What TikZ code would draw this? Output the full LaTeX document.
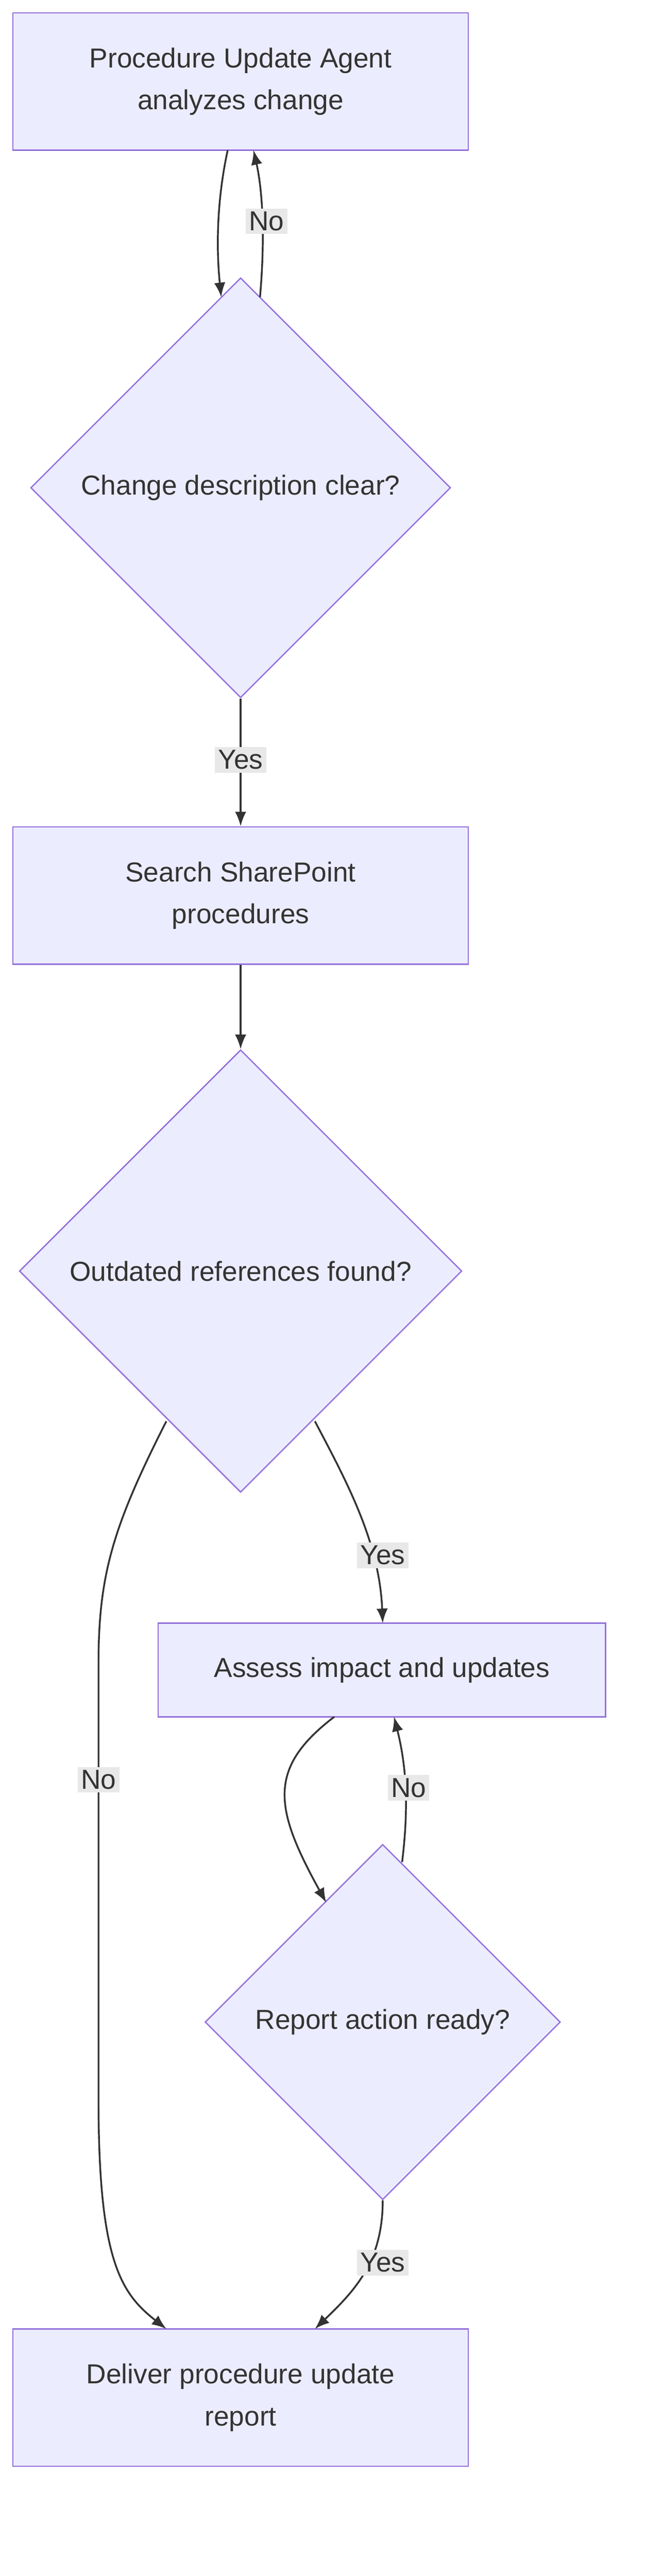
\documentclass[tikz,border=0pt]{standalone}
\usepackage{fontspec}
\setmainfont{Liberation Sans}
\usetikzlibrary{shapes.geometric,arrows.meta}
\definecolor{nfill}{HTML}{ECECFF}
\definecolor{nline}{HTML}{9370DB}
\definecolor{eline}{HTML}{333333}
\definecolor{lbg}{HTML}{E8E8E8}
\begin{document}
\begin{tikzpicture}[x=1pt,y=-1pt,
  font=\fontsize{17}{26}\selectfont, text=eline,
  boxn/.style={draw=nline,fill=nfill,line width=0.8pt,align=center},
  dia/.style={draw=nline,fill=nfill,line width=0.8pt,diamond,inner sep=0pt,text width=0pt,align=center},
  conn/.style={draw=eline,line width=1.1pt,-{Latex[length=9pt,width=7pt]}},
  lab/.style={fill=lbg,inner sep=2pt,font=\fontsize{17}{20}\selectfont}]
\useasboundingbox (0,0) rectangle (400,1595);
\fill[white] (0,0) rectangle (400,1595);
\node[boxn,minimum width=282pt,minimum height=85pt] (b1) at (149,50.5) {Procedure Update Agent\\analyzes change};
\node[boxn,minimum width=282pt,minimum height=85pt] (b2) at (149,554.5) {Search SharePoint\\procedures};
\node[boxn,minimum width=277pt,minimum height=58pt] (b3) at (236.5,1034) {Assess impact and updates};
\node[boxn,minimum width=282pt,minimum height=85pt] (b4) at (149,1484.5) {Deliver procedure update\\report};
\node[dia,minimum width=260pt,minimum height=260pt] (d1) at (149,302) {};
\node at (149,302) {Change description clear?};
\node[dia,minimum width=274pt,minimum height=274pt] (d2) at (149,787) {};
\node at (149,787) {Outdated references found?};
\node[dia,minimum width=220pt,minimum height=220pt] (d3) at (237,1252) {};
\node at (237,1252) {Report action ready?};
\coordinate (a1) at (141,93); \coordinate (a2) at (137,184);
\draw[conn] (a1) .. controls (134,125) and (134,155) .. (a2);
\coordinate (c1) at (161,184); \coordinate (c2) at (157,93);
\draw[conn] (c1) .. controls (164,150) and (163,120) .. (c2);
\node[lab] at (165,137) {No};
\draw[conn] (d1.south) -- (b2.north) node[lab,pos=0.48] {Yes};
\draw[conn] (b2.south) -- (d2.north);
\coordinate (e1) at (195,880); \coordinate (e2) at (237,1005);
\draw[conn] (e1) .. controls (215,918) and (235,955) .. (e2);
\node[lab] at (237,963) {Yes};
\coordinate (f1) at (103,880); \coordinate (f2) at (103,1442);
\draw[conn] (f1) .. controls (70,945) and (61,975) .. (61,1030) -- (61,1300) .. controls (61,1400) and (75,1420) .. (f2);
\node[lab] at (61,1102) {No};
\coordinate (g1) at (207,1063); \coordinate (g2) at (202,1178);
\draw[conn] (g1) .. controls (165,1095) and (170,1120) .. (g2);
\coordinate (h1) at (249,1153); \coordinate (h2) at (244,1063);
\draw[conn] (h1) .. controls (253,1120) and (252,1095) .. (h2);
\node[lab] at (253,1107) {No};
\coordinate (k2) at (195,1442);
\draw[conn] (d3.south) .. controls (237,1400) and (220,1418) .. (k2);
\node[lab] at (237,1401) {Yes};
\end{tikzpicture}
\end{document}
